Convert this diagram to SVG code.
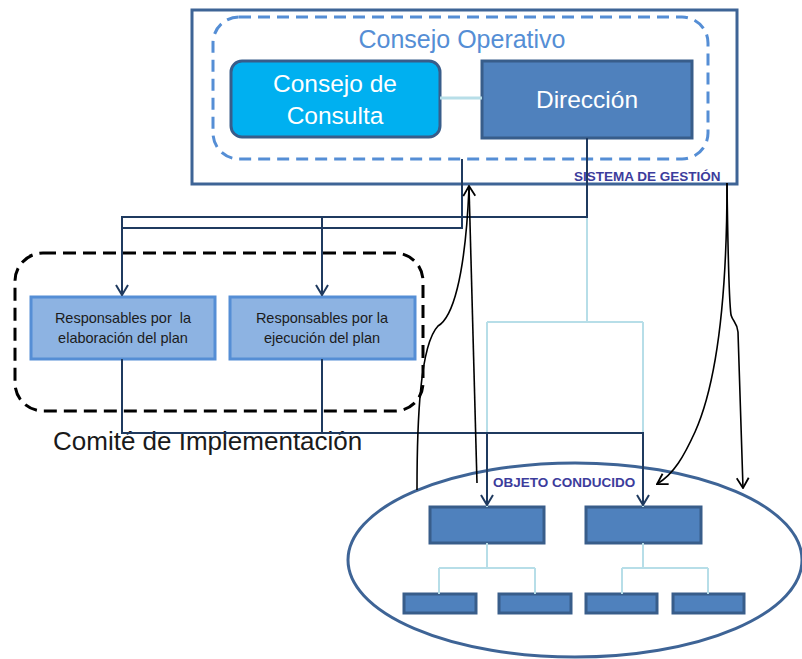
<svg xmlns="http://www.w3.org/2000/svg" width="802" height="659" viewBox="0 0 802 659">
<defs>
<style>
.t{font-family:"Liberation Sans",Arial,sans-serif}
.wt{fill:#ffffff;font-size:24.5px;text-anchor:middle}
.rt{fill:#1c1c1c;font-size:14.5px;text-anchor:middle}
.lbl{fill:#3C3C9C;font-size:13.5px;font-weight:bold}
.dir{fill:#4F81BD;stroke:#385D8A;stroke-width:3}
.resp{fill:#8DB3E2;stroke:#558ED5;stroke-width:3}
.dk{fill:none;stroke:#1F3A5F;stroke-width:2}
.cy{fill:none;stroke:#B7DEE8;stroke-width:2}
.cv{fill:none;stroke:#000;stroke-width:1.6}
</style>
<marker id="ad" markerUnits="userSpaceOnUse" markerWidth="12" markerHeight="14" refX="10" refY="6" orient="auto" viewBox="-1 -1 12 14">
<path d="M0,0 L10,6 L0,12" fill="none" stroke="#1F3A5F" stroke-width="2"/>
</marker>
<marker id="ab" markerUnits="userSpaceOnUse" markerWidth="12" markerHeight="14" refX="10" refY="6" orient="auto" viewBox="-1 -1 12 14">
<path d="M0,0 L10,6 L0,12" fill="none" stroke="#000" stroke-width="1.8"/>
</marker>
</defs>
<rect width="802" height="659" fill="#ffffff"/>

<g id="sistema-gestion">
<rect x="192" y="10" width="545" height="174" fill="#ffffff" stroke="#3E6496" stroke-width="3"/>
<text class="t lbl" x="574" y="181">SISTEMA DE GESTIÓN</text>
</g>

<g id="consejo-operativo">
<rect x="213" y="17" width="495" height="142" rx="26" fill="none" stroke="#558ED5" stroke-width="3" stroke-dasharray="12 7"/>
<text class="t" x="462" y="48" fill="#558ED5" font-size="25" text-anchor="middle">Consejo Operativo</text>
</g>

<g id="consejo-consulta">
<rect x="231" y="61" width="209" height="76" rx="11" fill="#00B0F0" stroke="#385D8A" stroke-width="3"/>
<text class="t wt" x="335" y="92">Consejo de</text>
<text class="t wt" x="335" y="124">Consulta</text>
</g>

<g id="direccion">
<rect x="482" y="61" width="210" height="77" class="dir"/>
<text class="t wt" x="587" y="108">Dirección</text>
</g>

<g id="comite">
<rect x="15" y="253" width="408" height="158" rx="28" fill="none" stroke="#000" stroke-width="3" stroke-dasharray="13 7"/>
<text class="t" x="53" y="450" fill="#1a1a1a" font-size="26">Comité de Implementación</text>
</g>

<g id="resp-elaboracion">
<rect x="31" y="297" width="184" height="62" class="resp"/>
<text class="t rt" x="123" y="323" xml:space="preserve">Responsables por  la</text>
<text class="t rt" x="123" y="343">elaboración del plan</text>
</g>

<g id="resp-ejecucion">
<rect x="230" y="297" width="185" height="62" class="resp"/>
<text class="t rt" x="322" y="323">Responsables por la</text>
<text class="t rt" x="322" y="343">ejecución del plan</text>
</g>

<g id="objeto-conducido">
<ellipse cx="575" cy="560" rx="227" ry="97" fill="none" stroke="#3E6496" stroke-width="3"/>
<text class="t lbl" x="493" y="487">OBJETO CONDUCIDO</text>
</g>

<g id="unidad-1"><rect x="430" y="507" width="114" height="36" class="dir"/></g>
<g id="unidad-2"><rect x="586" y="507" width="115" height="36" class="dir"/></g>
<g id="sub-1"><rect x="404" y="594" width="72" height="19" class="dir"/></g>
<g id="sub-2"><rect x="499" y="594" width="72" height="19" class="dir"/></g>
<g id="sub-3"><rect x="586" y="594" width="71" height="19" class="dir"/></g>
<g id="sub-4"><rect x="673" y="594" width="71" height="19" class="dir"/></g>

<g id="connectors">
<line x1="440" y1="98" x2="482" y2="98" stroke="#B7DEE8" stroke-width="3"/>
<path class="cy" d="M587,217 V322 M487,322 H643 M487,322 V507 M643,322 V507"/>
<path class="cy" d="M487,543 V568 M439,568 H535 M439,568 V594 M535,568 V594"/>
<path class="cy" d="M643,543 V568 M622,568 H708 M622,568 V594 M708,568 V594"/>
<path class="dk" d="M587,138 V217 H122 V295" marker-end="url(#ad)"/>
<path class="dk" d="M462,159 V228 H122"/>
<path class="dk" d="M322,217 V295" marker-end="url(#ad)"/>
<path class="dk" d="M122,359 V433 H643 V505" marker-end="url(#ad)"/>
<path class="dk" d="M322,359 V433"/>
<path class="dk" d="M487,433 V505" marker-end="url(#ad)"/>
<path class="cv" d="M477,483 L469,186" marker-end="url(#ab)"/>
<path class="cv" d="M417,490 C417,420 420,345 438,326 C452,318 465,280 469,188"/>
<path class="cv" d="M727,183 C727,300 716,385 695,432 C684,456 674,474 657,484" marker-end="url(#ab)"/>
<path class="cv" d="M727,183 C728,260 729,300 731,315 C733,322 737,322 738,332 L743,488" marker-end="url(#ab)"/>
</g>
</svg>
